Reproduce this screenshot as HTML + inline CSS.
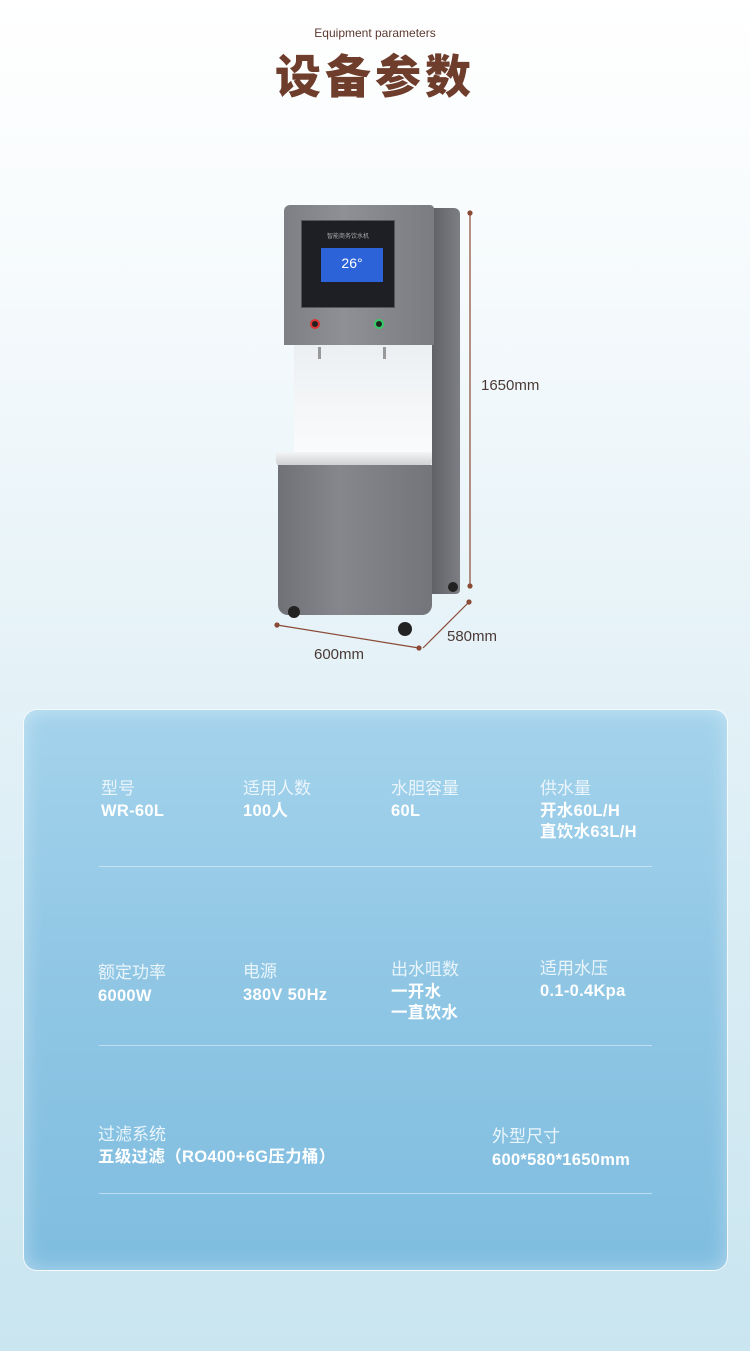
<!DOCTYPE html>
<html><head><meta charset="utf-8"><style>
*{margin:0;padding:0;box-sizing:border-box}
body{width:750px;height:1351px;position:relative;overflow:hidden;font-family:"Liberation Sans","Noto Sans CJK SC",sans-serif;background:linear-gradient(#ffffff 0px,#f5fafc 300px,#e3f1f7 700px,#c9e5f0 1351px)}
.a{position:absolute}
.lab{position:absolute;color:#eaf5fb;font-size:17px;line-height:20px}
.val{position:absolute;color:#fff;font-size:16.5px;font-weight:bold;line-height:21px;letter-spacing:0.3px}
.hr{position:absolute;height:1px;background:rgba(255,255,255,.45)}
</style></head><body>
<div class="a" style="left:0;width:750px;top:26px;text-align:center;font-size:12px;color:#5a3a30">Equipment parameters</div>
<div class="a" style="left:0;width:750px;top:49px;text-align:center;font-size:46px;font-weight:900;color:#6e3d2c;letter-spacing:4px;line-height:56px">设备参数</div>

<div class="a" style="left:432px;top:208px;width:28px;height:386px;background:linear-gradient(90deg,#5f6166,#7d7f84);border-radius:0 6px 4px 0"></div>
<div class="a" style="left:284px;top:205px;width:150px;height:140px;background:linear-gradient(90deg,#7d7f84,#8e9095 40%,#7a7c81);border-radius:6px 4px 0 0"></div>
<div class="a" style="left:301px;top:220px;width:94px;height:88px;background:#1d1f24;border:1px solid #555"></div>
<div class="a" style="left:301px;top:231px;width:94px;text-align:center;font-size:6px;color:#aaa">智能商务饮水机</div>
<div class="a" style="left:321px;top:248px;width:62px;height:34px;background:#2d63d9;color:#fff;font-size:14px;text-align:center;line-height:30px">26°</div>
<div class="a" style="left:310px;top:319px;width:10px;height:10px;border-radius:50%;background:#222;border:2px solid #d33"></div>
<div class="a" style="left:374px;top:319px;width:10px;height:10px;border-radius:50%;background:#222;border:2px solid #3c6"></div>
<div class="a" style="left:294px;top:345px;width:138px;height:110px;background:linear-gradient(#eceff2,#fafbfc)"></div>
<div class="a" style="left:318px;top:347px;width:3px;height:12px;background:#999"></div>
<div class="a" style="left:383px;top:347px;width:3px;height:12px;background:#999"></div>
<div class="a" style="left:276px;top:452px;width:156px;height:15px;background:linear-gradient(#f4f5f6,#c9cbce);border-radius:2px 2px 6px 6px"></div>
<div class="a" style="left:278px;top:465px;width:154px;height:150px;background:linear-gradient(90deg,#6f7176,#85878c 40%,#73757a);border-radius:0 0 10px 10px"></div>
<div class="a" style="left:288px;top:606px;width:12px;height:12px;border-radius:50%;background:#222"></div>
<div class="a" style="left:398px;top:622px;width:14px;height:14px;border-radius:50%;background:#222"></div>
<div class="a" style="left:448px;top:582px;width:10px;height:10px;border-radius:50%;background:#222"></div>

<svg class="a" style="left:0;top:0" width="750" height="700">
<g stroke="#8a4a36" stroke-width="1.2" fill="#8a4a36">
<line x1="470" y1="213" x2="470" y2="586"/><circle cx="470" cy="213" r="2"/><circle cx="470" cy="586" r="2"/>
<line x1="277" y1="625" x2="419" y2="648"/><circle cx="277" cy="625" r="2"/><circle cx="419" cy="648" r="2"/>
<line x1="423" y1="648" x2="469" y2="602"/><circle cx="469" cy="602" r="2"/>
</g></svg>
<div class="a" style="left:481px;top:377px;font-size:15px;color:#4a3a35">1650mm</div>
<div class="a" style="left:314px;top:646px;font-size:15px;color:#4a3a35">600mm</div>
<div class="a" style="left:447px;top:628px;font-size:15px;color:#4a3a35">580mm</div>

<div class="a" style="left:23px;top:709px;width:705px;height:562px;border-radius:14px;border:1.5px solid rgba(255,255,255,.9);background:linear-gradient(#a4d3ec,#8fc6e4 50%,#7fbde0);box-shadow:inset 0 0 20px rgba(255,255,255,.4)"></div>

<div class="lab" style="left:101px;top:779px">型号</div><div class="val" style="left:101px;top:801px">WR-60L</div>
<div class="lab" style="left:243px;top:779px">适用人数</div><div class="val" style="left:243px;top:801px">100人</div>
<div class="lab" style="left:391px;top:779px">水胆容量</div><div class="val" style="left:391px;top:801px">60L</div>
<div class="lab" style="left:540px;top:779px">供水量</div><div class="val" style="left:540px;top:801px">开水60L/H<br>直饮水63L/H</div>
<div class="hr" style="left:99px;top:866px;width:553px"></div>

<div class="lab" style="left:98px;top:963px">额定功率</div><div class="val" style="left:98px;top:986px">6000W</div>
<div class="lab" style="left:243px;top:962px">电源</div><div class="val" style="left:243px;top:985px">380V 50Hz</div>
<div class="lab" style="left:391px;top:960px">出水咀数</div><div class="val" style="left:391px;top:982px">一开水<br>一直饮水</div>
<div class="lab" style="left:540px;top:959px">适用水压</div><div class="val" style="left:540px;top:981px">0.1-0.4Kpa</div>
<div class="hr" style="left:99px;top:1045px;width:553px"></div>

<div class="lab" style="left:98px;top:1125px">过滤系统</div><div class="val" style="left:98px;top:1147px">五级过滤（RO400+6G压力桶）</div>
<div class="lab" style="left:492px;top:1127px">外型尺寸</div><div class="val" style="left:492px;top:1150px">600*580*1650mm</div>
<div class="hr" style="left:99px;top:1193px;width:553px"></div>
</body></html>
